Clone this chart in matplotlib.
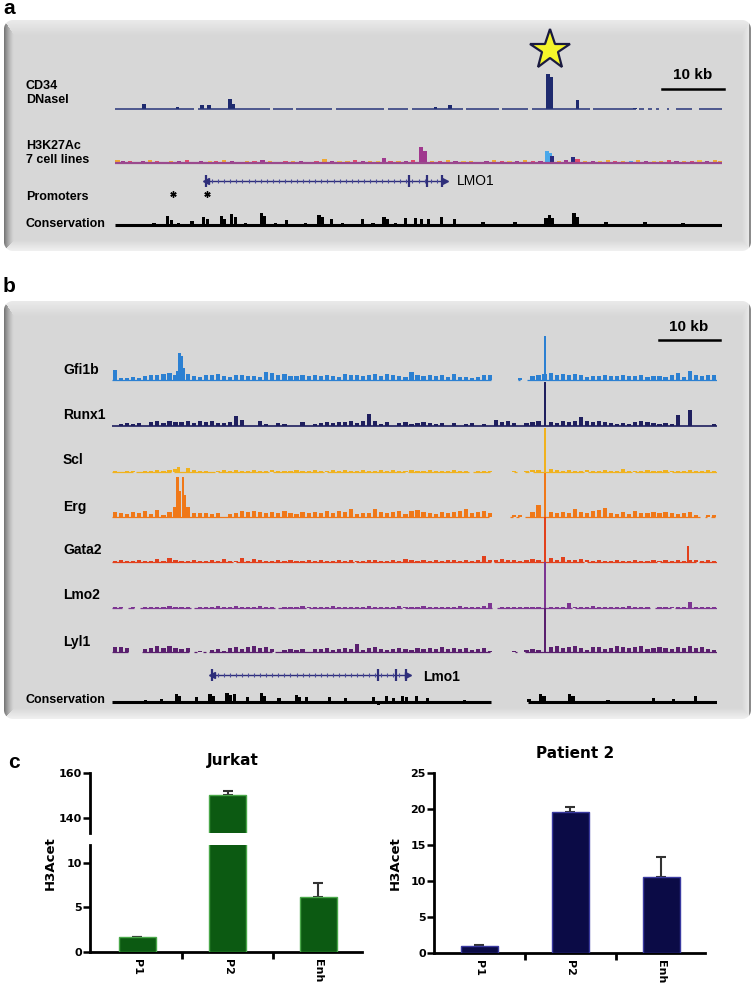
import numpy as np
import matplotlib
matplotlib.use('Agg')
import matplotlib.pyplot as plt

# ---------------- DATA ----------------
# Panel a (positions in kb across a ~100 kb window, heights in signal units)
cd34_pos = [4.8, 10.3, 14.3, 15.5, 18.9, 19.4, 52.8, 55.2, 71.3, 71.9, 76.2, 85.7]
cd34_h = [5, 2, 4, 4, 10, 5, 2, 4, 35, 32, 9, 1.5]
cd34_segments = [(0, 13.0), (13.6, 25.5), (26.1, 29.3), (29.9, 35.8), (36.4, 44.3), (44.9, 48.3),
                 (48.9, 57.3), (57.9, 63.2), (63.8, 68.1), (68.7, 78.2), (78.8, 85.8), (86.4, 87.2),
                 (87.8, 88.4), (89.2, 89.7), (90.9, 91.3), (92.5, 95.0), (96.2, 100)]

h3_bumps = [(0.4,3,'O'),(1.3,2,'P'),(2.5,2.5,'R'),(3.4,1.5,'Y'),(4.6,2,'P'),(5.8,3,'O'),(6.9,2,'R'),
            (8.1,1.5,'N'),(9.2,2.5,'O'),(10.6,2,'P'),(11.8,3,'R'),(12.9,1.5,'O'),(14.2,2,'P'),
            (15.6,2.5,'Y'),(16.7,2,'R'),(17.9,3,'O'),(19.3,2,'P'),(20.4,1.5,'B'),(21.8,2.5,'O'),
            (23.0,2,'R'),(24.3,3,'P'),(25.5,2,'O'),(26.8,1.5,'Y'),(28.1,2,'R'),(29.3,2.5,'O'),
            (30.7,2,'P'),(31.8,1.5,'O'),(33.2,2.5,'R'),(34.5,4,'O'),(35.8,2,'P'),(37.0,2.5,'Y'),
            (38.3,2,'O'),(39.5,3,'R'),(40.8,2,'P'),(42.0,2.5,'O'),(43.3,2,'Y'),(44.3,5,'P'),
            (45.4,2,'R'),(46.7,2.5,'O'),(47.9,2,'P'),(49.1,3,'R'),(50.4,16,'P'),(51.1,12,'P'),
            (52.2,2.5,'O'),(53.6,2,'R'),(54.8,3,'O'),(56.1,2,'P'),(57.4,2.5,'Y'),(58.6,2,'O'),
            (59.9,1.5,'R'),(61.2,2.5,'P'),(62.4,3,'O'),(63.7,2,'R'),(65.0,2.5,'Y'),(66.2,2,'P'),
            (67.5,3,'O'),(68.9,2,'R'),(70.1,2.5,'P'),(71.2,12,'B'),(71.6,10,'B'),(71.95,7,'N'),
            (73.1,2.5,'O'),(74.3,3,'P'),(75.4,6,'N'),(76.2,4,'R'),(77.4,2,'O'),(78.7,2.5,'P'),
            (79.9,2,'Y'),(81.2,3,'O'),(82.4,2,'R'),(83.7,2.5,'O'),(85.0,2,'B'),(86.2,3,'O'),
            (87.5,2,'P'),(88.8,2.5,'Y'),(90.0,2,'O'),(91.3,3,'R'),(92.5,2,'P'),(93.8,2.5,'O'),
            (95.0,2,'R'),(96.3,3,'Y'),(97.5,2,'P'),(98.8,3,'O'),(99.7,2.5,'O')]

cons_a_pos = [1.5, 3.2, 5.0, 6.4, 8.6, 9.3, 10.5, 11.6, 12.7, 14.6, 15.2, 17.5, 18.0, 19.2, 19.9,
              21.5, 22.8, 24.1, 24.6, 26.4, 28.2, 30.0, 31.4, 33.6, 34.2, 35.7, 37.5, 39.2, 40.8,
              42.5, 44.3, 44.9, 46.2, 47.9, 49.5, 50.5, 51.6, 53.8, 55.9, 57.6, 60.6, 62.5, 65.9,
              68.4, 71.0, 71.6, 72.1, 75.6, 76.1, 78.5, 80.9, 83.5, 85.5, 87.3, 90.2, 93.6, 96.5, 98.5]
cons_a_h = [1, 1.5, 1, 2, 9, 5, 2, 1.5, 4, 8, 6, 9, 6, 11, 8,
            2, 1.5, 12, 9, 2, 5, 1.5, 2, 10, 8, 6, 2, 1.5, 6,
            2, 8, 6, 2, 7, 7, 6, 6, 8, 6, 1.5, 3, 1.5, 3,
            1.5, 7, 10, 7, 12, 8, 1.5, 3, 1.5, 1, 3, 1.5, 2, 1, 1.5]

lmo1_a = (15.0, 54.4)
lmo1_a_exons = [48.4, 51.4, 53.8]
promoter_pos = [9.6, 15.2]

# Panel b: 1-kb bin signal (kb 0..99) plus sharp peaks
tf_names = ['Gfi1b', 'Runx1', 'Scl', 'Erg', 'Gata2', 'Lmo2', 'Lyl1']
gfi1b_bins = [10,2,2,3,2,4,5,5,6,7, 5,0,6,4,3,5,5,6,4,3, 5,5,4,4,3,8,7,5,6,4, 4,5,4,5,4,5,4,3,6,5,
              5,4,5,6,4,6,5,4,3,8, 5,4,5,4,5,3,6,3,3,2, 3,5,5,0,0,0,0,2,0,4, 5,6,7,5,6,5,6,5,3,4,
              4,5,4,4,5,4,4,5,3,4, 4,3,5,7,3,9,5,4,5,5]
runx1_bins = [0,2,3,2,3,0,4,5,3,5, 4,4,5,3,5,4,5,3,3,4, 10,6,0,0,5,2,0,3,2,0, 0,4,0,2,3,4,3,4,4,5,
              3,5,12,5,2,4,0,3,4,2, 3,4,3,2,3,0,3,0,2,3, 0,2,0,6,4,5,3,0,3,4, 5,0,4,3,5,4,5,9,5,4,
              5,4,3,2,3,2,4,5,4,3, 2,3,2,11,0,16,0,0,0,2]
scl_bins = [1,0,1,1,0,1,1,2,1,2, 3,0,4,2,1,1,0,1,2,1, 2,1,1,2,1,1,2,1,1,1, 2,1,1,2,1,1,2,1,2,1,
            1,2,1,1,2,1,2,1,1,2, 1,1,2,1,1,1,2,1,1,0, 1,1,1,0,0,0,1,0,1,2, 2,0,3,2,1,2,1,1,2,1,
            1,2,1,1,3,1,1,1,2,1, 1,2,1,1,1,2,1,1,2,1]
erg_bins = [5,4,3,5,4,6,3,7,2,5, 10,0,10,4,4,4,3,4,0,3, 4,6,5,6,5,4,5,4,6,4, 3,5,4,5,4,6,4,6,5,8,
            3,4,4,8,5,4,5,6,3,6, 7,5,4,3,5,4,5,6,8,4, 5,6,4,0,0,0,2,2,0,5, 12,0,5,4,5,4,8,5,4,6,
            7,9,4,3,5,3,6,4,4,5, 4,5,4,3,4,5,2,0,2,2]
gata2_bins = [1,2,1,1,2,1,1,3,1,4, 2,1,1,2,1,1,2,1,3,1, 1,4,1,3,2,1,1,2,1,2, 1,1,2,1,2,1,1,2,1,2,
              1,1,2,2,1,1,2,1,3,2, 1,2,1,2,1,2,2,1,2,1, 2,6,2,2,3,2,2,1,2,3, 2,0,4,2,5,2,2,3,2,1,
              2,1,1,2,1,1,2,1,1,2, 1,2,1,2,1,2,2,1,2,1]
lmo2_bins = [1,1,0,1,0,1,1,1,1,2, 1,1,1,0,1,1,1,2,1,1, 2,1,1,1,2,1,1,0,1,1, 1,2,1,1,1,1,2,1,1,1,
             1,1,2,1,1,1,1,2,1,1, 1,2,1,1,1,1,1,2,1,1, 1,2,5,0,1,1,1,1,1,1, 1,0,1,1,1,5,1,1,1,2,
             1,1,1,1,1,2,1,1,1,0, 1,1,1,1,1,6,1,1,1,1]
lyl1_bins = [5,5,4,0,0,3,4,6,4,6, 4,3,4,0,1,0,2,3,1,4, 5,3,5,6,4,5,3,0,2,3, 2,3,0,3,3,4,2,3,4,3,
             8,2,4,5,3,2,3,4,3,2, 4,3,4,3,5,3,4,3,4,2, 3,4,1,0,0,0,1,0,2,3, 2,0,5,6,4,5,6,4,2,5,
             5,3,4,6,5,4,5,6,3,4, 5,4,3,5,4,6,4,5,3,2]
gfi1b_peaks = [(10.8, 9), (11.15, 27), (11.55, 24), (11.9, 12), (71.6, 44)]
runx1_peaks = [(71.6, 44)]
scl_peaks = [(11.0, 5.5), (71.6, 44)]
erg_peaks = [(10.85, 40), (11.25, 26), (11.7, 40), (12.1, 22), (71.6, 44)]
gata2_peaks = [(71.6, 45), (95.2, 16)]
lmo2_peaks = [(71.6, 46)]
lyl1_peaks = [(71.6, 44)]
gfi1b_seg = [(0, 62.6), (67.1, 67.5), (68.6, 100)]
runx1_seg = [(0, 100)]
scl_seg = [(0, 3.5), (4, 9.8), (10.3, 17), (17.5, 26), (26.6, 35), (35.5, 48.5), (49, 59), (59.6, 62.4),
           (66.5, 66.9), (68.3, 69), (69.6, 78), (78.6, 86), (86.5, 92), (92.6, 100)]
erg_seg = [(0, 62.3), (65.8, 66.3), (66.8, 67.3), (68.3, 97.2), (98, 98.4), (99, 99.6)]
gata2_seg = [(0, 20), (20.5, 40), (40.4, 62.6), (63.2, 78), (78.5, 90), (90.5, 96.5), (97, 100)]
lmo2_seg = [(0, 1.7), (2.6, 3.6), (4.6, 13), (13.5, 27), (27.4, 32), (32.5, 48), (48.5, 62.8),
            (63.6, 76), (76.5, 89), (89.8, 92.4), (93, 100)]
lyl1_seg = [(0, 2.6), (5, 12.8), (13.5, 14), (15, 15.5), (16, 26.5), (27, 62.4), (66.6, 67), (68.2, 100)]

cons_b_pos = [5.5, 8.2, 10.7, 11.2, 14.0, 16.2, 16.7, 19.0, 19.5, 20.3, 22.4, 24.7, 25.2, 27.6, 30.5,
              31.0, 32.2, 35.9, 38.6, 43.2, 44.0, 45.4, 46.5, 46.8, 48.0, 48.7, 49.5, 50.3, 52.2,
              58.3, 68.9, 70.8, 71.4, 75.6, 76.2, 82.0, 89.5, 92.8, 96.4]
cons_b_h = [2, 3, 8, 6, 5, 8, 6, 9, 7, 8, 5, 9, 6, 4, 7,
            5, 5, 5, 4, 5, -2.5, 6, 4, -2, 6, 5, -2, 6, 4,
            2, 3, 8, 6, 8, 6, 2, 4, 3, 6]
cons_b_seg = [(0, 62.7), (68.8, 100)]
lmo1_b = (16.5, 48.9)
lmo1_b_exons = [44.0, 46.9, 48.6]

# Panel c
categories = ['P1', 'P2', 'Enh']
jurkat_vals = [1.65, 150.0, 6.15]
jurkat_err = [0.08, 2.0, 1.55]
patient_vals = [1.0, 19.6, 10.6]
patient_err = [0.05, 0.7, 2.7]

# ---------------- FIGURE ----------------
W, H = 754, 984
fig = plt.figure(figsize=(W / 100, H / 100), dpi=100)
fig.patch.set_facecolor('white')
bg = fig.add_axes([0, 0, 1, 1])
bg.set_xlim(0, W)
bg.set_ylim(H, 0)
bg.axis('off')

SANS = ['Liberation Sans', 'DejaVu Sans']


def bevel_box(x0, y0, x1, y1):
    w = int(x1 - x0)
    h = int(y1 - y0)
    yy, xx = np.mgrid[0:h, 0:w] + 0.5
    base = 0.845
    L, T, R, B = 10.0, 15.0, 9.0, 11.0
    nl, nr, nt, nb = xx / L, (w - xx) / R, yy / T, (h - yy) / B
    stack = np.stack([nl, nt, nr, nb])
    idx = np.argmin(stack, axis=0)
    mn = np.min(stack, axis=0)
    v = np.full((h, w), base)
    inb = mn < 1
    t = np.clip(1 - mn, 0, 1)
    v = np.where(inb & (idx == 0), base - 0.40 * t ** 1.4, v)
    v = np.where(inb & (idx == 1), base + 0.075 * t, v)
    v = np.where(inb & (idx == 2), base + 0.09 * t, v)
    v = np.where(inb & (idx == 3), base + 0.10 * t, v)
    v = np.where((w - xx) < 1.6, 0.55, v)
    alpha = np.ones((h, w))
    r = 9.0
    for cx, cy in [(r, r), (w - r, r), (r, h - r), (w - r, h - r)]:
        inx = (xx < r) if cx == r else (xx > w - r)
        iny = (yy < r) if cy == r else (yy > h - r)
        d = np.hypot(xx - cx, yy - cy)
        alpha = np.where(inx & iny, np.clip(r - d + 0.5, 0, 1) * alpha, alpha)
    img = np.dstack([v, v, v, alpha])
    bg.imshow(img, extent=(x0, x1, y1, y0), interpolation='bilinear', zorder=0, aspect='auto')


bevel_box(4, 20, 751, 251)
bevel_box(4, 301, 751, 719)
bg.set_xlim(0, W)
bg.set_ylim(H, 0)


def track_axes(x0, x1, baseline, up=48, down=6):
    ax = fig.add_axes([x0 / W, 1 - (baseline + down) / H, (x1 - x0) / W, (up + down) / H])
    ax.set_xlim(0, 100)
    ax.set_ylim(-down, up)
    ax.axis('off')
    ax.patch.set_alpha(0)
    return ax


def draw_bins(ax, bins, peaks, segs, color, base_lw=0.9):
    for s, e in segs:
        ax.plot([s, e], [0, 0], color=color, lw=base_lw, solid_capstyle='butt')
    b = np.array(bins, dtype=float)
    xs = np.arange(len(b)) + 0.5
    m = b > 0
    ax.bar(xs[m], b[m], width=0.7, color=color, linewidth=0)
    if peaks:
        px, ph = zip(*peaks)
        ax.bar(px, ph, width=0.38, color=color, linewidth=0)


def draw_gene(ax, span, exons):
    ax.plot(span, [0, 0], color='#2e2e7a', lw=1.0)
    ticks = np.arange(span[0] + 1, span[1] - 0.5, 1.0)
    ax.plot(ticks, np.zeros(len(ticks)), ls='none', marker='|', ms=3.5, mew=0.8, color='#4a4a9a')
    ax.plot([span[0]], [0], marker='<', ms=4.5, color='#2e2e7a', ls='none')
    ax.plot([span[1]], [0], marker='>', ms=4.5, color='#2e2e7a', ls='none')
    ax.plot(list(exons) + [span[0]], [0] * (len(exons) + 1), ls='none', marker='|', ms=9, mew=1.6,
            color='#2e2e7a')


# ---- panel a ----
AX0, AX1 = 115, 722
ax_cd = track_axes(AX0, AX1, 109, up=40)
for s, e in cd34_segments:
    ax_cd.plot([s, e], [0, 0], color='#27357a', lw=1.1, solid_capstyle='butt')
ax_cd.bar(cd34_pos, cd34_h, width=0.6, color='#1e2a6e', linewidth=0)
ax_cd.plot([71.6], [59], marker='*', ms=30, mfc='#f4f42a', mec='#1a1a40', mew=1.6, clip_on=False)

colmap = {'O': '#f0a832', 'P': '#a0388e', 'R': '#e2486a', 'Y': '#f2c440', 'N': '#2a2a7e', 'B': '#4aa8ea'}
ax_h3 = track_axes(AX0, AX1, 163, up=20)
ax_h3.plot([0, 100], [0, 0], color='#9a4a8e', lw=1.6, solid_capstyle='butt')
hx, hh, hc = zip(*h3_bumps)
ax_h3.bar(hx, hh, width=0.7, color=[colmap[c] for c in hc], linewidth=0)

ax_gene = track_axes(AX0, AX1, 181, up=6, down=6)
draw_gene(ax_gene, lmo1_a, lmo1_a_exons)

ax_pr = track_axes(AX0, AX1, 194, up=6, down=6)
ax_pr.plot(promoter_pos, [0] * len(promoter_pos), ls='none', marker=(6, 2, 0), ms=4.5, mew=1.0, color='k')

ax_ca = track_axes(AX0, AX1, 225, up=15, down=5)
ax_ca.plot([0, 100], [0, 0], color='k', lw=2.2, solid_capstyle='butt')
ax_ca.bar(cons_a_pos, cons_a_h, width=0.55, color='k', linewidth=0)

bg.text(3, 9, 'a', fontsize=15, fontweight='bold', va='center', ha='left', family=SANS)
for txt, y in [('CD34', 86), ('DNaseI', 100), ('H3K27Ac', 146), ('7 cell lines', 160),
               ('Promoters', 197), ('Conservation', 224)]:
    bg.text(26, y, txt, fontsize=9, fontweight='bold', va='center', ha='left', family=SANS)
bg.text(457, 181, 'LMO1', fontsize=10, va='center', ha='left', family=SANS)
bg.plot([662, 724], [89, 89], color='k', lw=1.8)
bg.text(693, 82, '10 kb', fontsize=11, fontweight='bold', ha='center', va='bottom', family=SANS)

# ---- panel b ----
BX0, BX1 = 112, 717
tf_bins = [gfi1b_bins, runx1_bins, scl_bins, erg_bins, gata2_bins, lmo2_bins, lyl1_bins]
tf_peaks = [gfi1b_peaks, runx1_peaks, scl_peaks, erg_peaks, gata2_peaks, lmo2_peaks, lyl1_peaks]
tf_segs = [gfi1b_seg, runx1_seg, scl_seg, erg_seg, gata2_seg, lmo2_seg, lyl1_seg]
tf_colors = ['#2b80d2', '#1f1f5e', '#f0b21e', '#f07818', '#e2401c', '#7d3592', '#5a1f6e']
tf_base = [380, 426, 472, 517, 562, 608, 652]
tf_label_y = [370, 415, 460, 507, 550, 595, 642]
for name, bins, pk, sg, col, yb, yl in zip(tf_names, tf_bins, tf_peaks, tf_segs, tf_colors, tf_base, tf_label_y):
    ax = track_axes(BX0, BX1, yb, up=48)
    draw_bins(ax, bins, pk, sg, col, base_lw=1.2 if name == 'Runx1' else 0.9)
    bg.text(63, yl, name, fontsize=10, fontweight='bold', va='center', ha='left', family=SANS)

ax_gb = track_axes(BX0, BX1, 675, up=6, down=6)
draw_gene(ax_gb, lmo1_b, lmo1_b_exons)

ax_cb = track_axes(BX0, BX1, 702, up=15, down=5)
for s, e in cons_b_seg:
    ax_cb.plot([s, e], [0, 0], color='k', lw=2.2, solid_capstyle='butt')
ax_cb.bar(cons_b_pos, cons_b_h, width=0.55, color='k', linewidth=0)

bg.text(3, 287, 'b', fontsize=15, fontweight='bold', va='center', ha='left', family=SANS)
bg.text(423, 677, 'Lmo1', fontsize=10, fontweight='bold', va='center', ha='left', family=SANS)
bg.text(26, 700, 'Conservation', fontsize=9, fontweight='bold', va='center', ha='left', family=SANS)
bg.plot([659, 720], [340, 340], color='k', lw=1.8)
bg.text(689, 334, '10 kb', fontsize=11, fontweight='bold', ha='center', va='bottom', family=SANS)

# ---- panel c ----
BOLD = dict(fontweight='bold', family=['DejaVu Sans'])


def axes_px(x0, y0, x1, y1):
    a = fig.add_axes([x0 / W, 1 - y1 / H, (x1 - x0) / W, (y1 - y0) / H])
    a.patch.set_alpha(0)
    return a


def style_axis(a, yticks, bottom=True):
    for sp in ['top', 'right']:
        a.spines[sp].set_visible(False)
    a.spines['left'].set_linewidth(2.0)
    a.spines['bottom'].set_linewidth(2.0)
    a.spines['bottom'].set_visible(bottom)
    a.set_yticks(yticks)
    a.set_yticklabels([str(t) for t in yticks], fontsize=8, **BOLD)
    a.tick_params(axis='y', direction='out', length=5, width=1.8, pad=1)
    a.set_xlim(-0.52, 2.48)
    if bottom:
        a.set_xticks([0, 1, 2])
        a.set_xticklabels(categories, rotation=270, fontsize=8, **BOLD)
        a.set_xticks([0.5, 1.5], minor=True)
        a.tick_params(axis='x', which='major', length=0, pad=5)
        a.tick_params(axis='x', which='minor', length=5, width=2.0, direction='out')
    else:
        a.set_xticks([])


xs = np.arange(len(categories))
# Jurkat broken axis
ju = axes_px(90, 773, 362, 833)
jl = axes_px(90, 845, 362, 952)
for a in (ju, jl):
    a.bar(xs, jurkat_vals, width=0.41, color='#0c5a12', edgecolor='#4aa84a', linewidth=1.0, zorder=3)
    a.errorbar(xs, jurkat_vals, yerr=[np.zeros(3), jurkat_err], fmt='none', ecolor='#333333',
               elinewidth=1.5, capsize=3.5, capthick=1.5, zorder=2)
ju.set_ylim(133.3, 160)
jl.set_ylim(0, 12)
style_axis(ju, [140, 160], bottom=False)
style_axis(jl, [0, 5, 10], bottom=True)
bg.text(233, 761, 'Jurkat', fontsize=11, ha='center', va='center', **BOLD)
bg.text(50, 863, 'H3Acet', fontsize=9.5, rotation=90, ha='center', va='center', **BOLD)

pa = axes_px(434, 773, 705, 953)
pa.bar(xs, patient_vals, width=0.41, color='#0b0b46', edgecolor='#3a3aa0', linewidth=1.0, zorder=3)
pa.errorbar(xs, patient_vals, yerr=[np.zeros(3), patient_err], fmt='none', ecolor='#333333',
            elinewidth=1.5, capsize=3.5, capthick=1.5, zorder=2)
pa.set_ylim(0, 25)
style_axis(pa, [0, 5, 10, 15, 20, 25], bottom=True)
pa.set_xlim(-0.5, 2.48)
bg.text(575, 753, 'Patient 2', fontsize=11, ha='center', va='center', **BOLD)
bg.text(395, 863, 'H3Acet', fontsize=9.5, rotation=90, ha='center', va='center', **BOLD)

bg.text(8, 763, 'c', fontsize=15, fontweight='bold', va='center', ha='left', family=SANS)

fig.savefig('out.png', dpi=100)
